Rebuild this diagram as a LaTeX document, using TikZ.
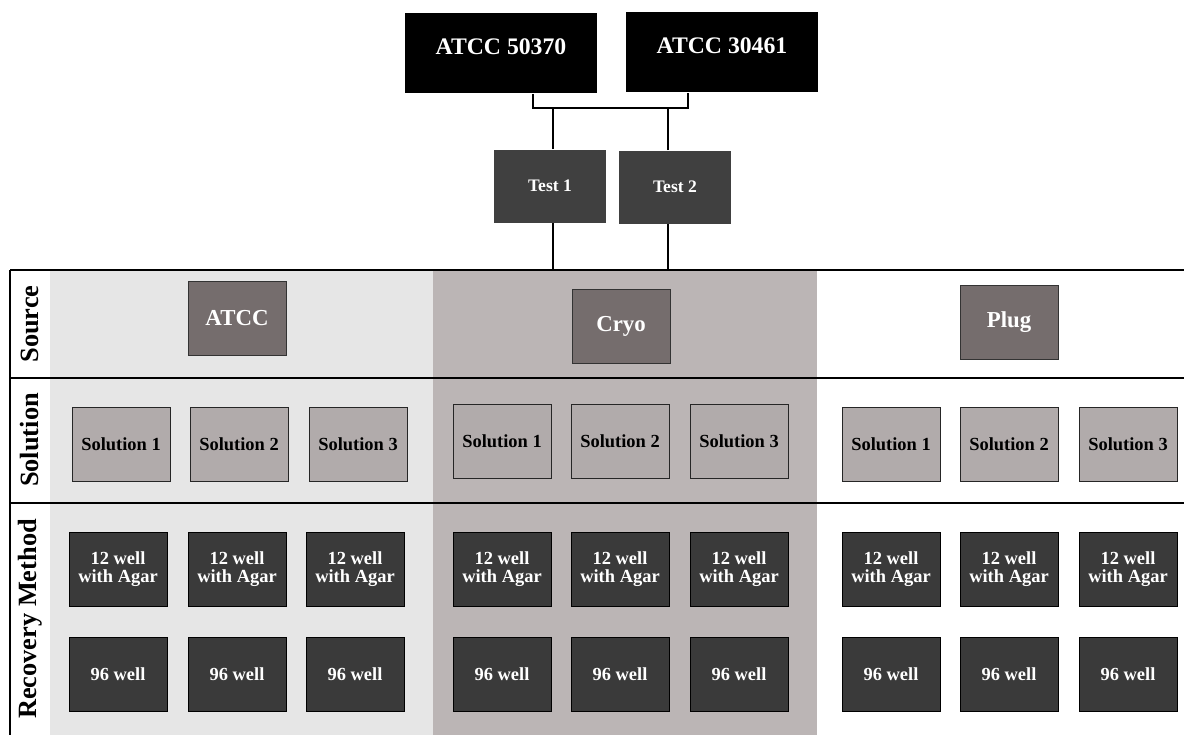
\documentclass[tikz,border=0pt]{standalone}
\usepackage{fontspec}
\setmainfont{Liberation Serif}
\definecolor{colA}{HTML}{E6E6E6}
\definecolor{colB}{HTML}{BBB5B5}
\definecolor{srcfill}{HTML}{756D6D}
\definecolor{solfill}{HTML}{B1ABAB}
\definecolor{wellfill}{HTML}{3A3A3A}
\definecolor{testfill}{HTML}{404040}
\begin{document}
\begin{tikzpicture}[x=0.02cm,y=-0.02cm,
  strain/.style={fill=black,minimum width=3.84cm,minimum height=1.62cm,inner sep=0pt},
  straintext/.style={text=white,yshift=0.13cm,font=\bfseries\fontsize{13.5}{15}\selectfont},
  testbox/.style={fill=testfill,text=white,minimum width=2.26cm,minimum height=1.46cm,inner sep=0pt,font=\bfseries\fontsize{10}{11}\selectfont},
  srcbox/.style={fill=srcfill,draw=black!80,line width=0.5pt,text=white,minimum width=1.96cm,minimum height=1.48cm,inner sep=0pt,font=\bfseries\fontsize{13}{14}\selectfont},
  solbox/.style={fill=solfill,draw=black!85,line width=0.5pt,text=black,minimum width=1.96cm,minimum height=1.48cm,inner sep=0pt,font=\bfseries\fontsize{10.5}{12}\selectfont},
  wellbox/.style={fill=wellfill,draw=black,line width=0.5pt,text=white,minimum width=1.96cm,minimum height=1.48cm,inner sep=0pt,align=center,font=\bfseries\fontsize{10.5}{10}\selectfont},
  rowlabel/.style={rotate=90,font=\bfseries\fontsize{15}{17}\selectfont,inner sep=0pt},
  rule/.style={line width=0.8pt,black}]
\useasboundingbox (0,0) rectangle (1184,735);
% column backgrounds
\fill[colA] (50,270) rectangle (433,735);
\fill[colB] (433,270) rectangle (817,735);
% table rules
\coordinate (tabtop) at (0,270);
\draw[rule] (10,270) -- (1184,270);
\draw[rule] (10,378) -- (1184,378);
\draw[rule] (10,503) -- (1184,503);
\draw[rule] (10,270) -- (10,735);
% row labels
\node[rowlabel] (lsrc) at (30,324) {Source};
\node[rowlabel] (lsol) at (30,440) {Solution};
\node[rowlabel] (lrec) at (30,619) {Recovery Method};
% top strains
\node[strain,label={[straintext]center:ATCC 50370}] (a1) at (501,53) {};
\node[strain,label={[straintext]center:ATCC 30461}] (a2) at (722,52) {};
\node[testbox] (t1) at (550,186) {Test 1};
\node[testbox] (t2) at (675,187) {Test 2};
\coordinate (b1) at ([xshift=0.64cm]a1.south);
\coordinate (b2) at ([xshift=-0.68cm]a2.south);
\coordinate (jl) at (610,108);
\draw[rule] (b1) |- (jl) -| (b2);
\draw[rule] ([xshift=0.06cm]t1.north) -- ([xshift=0.06cm]t1.north |- jl);
\draw[rule] ([xshift=-0.14cm]t2.north) -- ([xshift=-0.14cm]t2.north |- jl);
\draw[rule] ([xshift=0.06cm]t1.south) -- ([xshift=0.06cm]t1.south |- tabtop);
\draw[rule] ([xshift=-0.14cm]t2.south) -- ([xshift=-0.14cm]t2.south |- tabtop);
% sources
\node[srcbox] (s1) at (237,318) {ATCC};
\node[srcbox] (s2) at (621,326) {Cryo};
\node[srcbox] (s3) at (1009,322) {Plug};
% solutions
\node[solbox] (p11) at (121,444) {Solution 1};
\node[solbox] (p12) at (239,444) {Solution 2};
\node[solbox] (p13) at (358,444) {Solution 3};
\node[solbox] (p21) at (502,441) {Solution 1};
\node[solbox] (p22) at (620,441) {Solution 2};
\node[solbox] (p23) at (739,441) {Solution 3};
\node[solbox] (p31) at (891,444) {Solution 1};
\node[solbox] (p32) at (1009,444) {Solution 2};
\node[solbox] (p33) at (1128,444) {Solution 3};
% 12 well
\node[wellbox] (w11) at (118,569) {12 well\\with Agar};
\node[wellbox] (w12) at (237,569) {12 well\\with Agar};
\node[wellbox] (w13) at (355,569) {12 well\\with Agar};
\node[wellbox] (w21) at (502,569) {12 well\\with Agar};
\node[wellbox] (w22) at (620,569) {12 well\\with Agar};
\node[wellbox] (w23) at (739,569) {12 well\\with Agar};
\node[wellbox] (w31) at (891,569) {12 well\\with Agar};
\node[wellbox] (w32) at (1009,569) {12 well\\with Agar};
\node[wellbox] (w33) at (1128,569) {12 well\\with Agar};
% 96 well
\node[wellbox] (n11) at (118,674) {96 well};
\node[wellbox] (n12) at (237,674) {96 well};
\node[wellbox] (n13) at (355,674) {96 well};
\node[wellbox] (n21) at (502,674) {96 well};
\node[wellbox] (n22) at (620,674) {96 well};
\node[wellbox] (n23) at (739,674) {96 well};
\node[wellbox] (n31) at (891,674) {96 well};
\node[wellbox] (n32) at (1009,674) {96 well};
\node[wellbox] (n33) at (1128,674) {96 well};
\end{tikzpicture}
\end{document}
